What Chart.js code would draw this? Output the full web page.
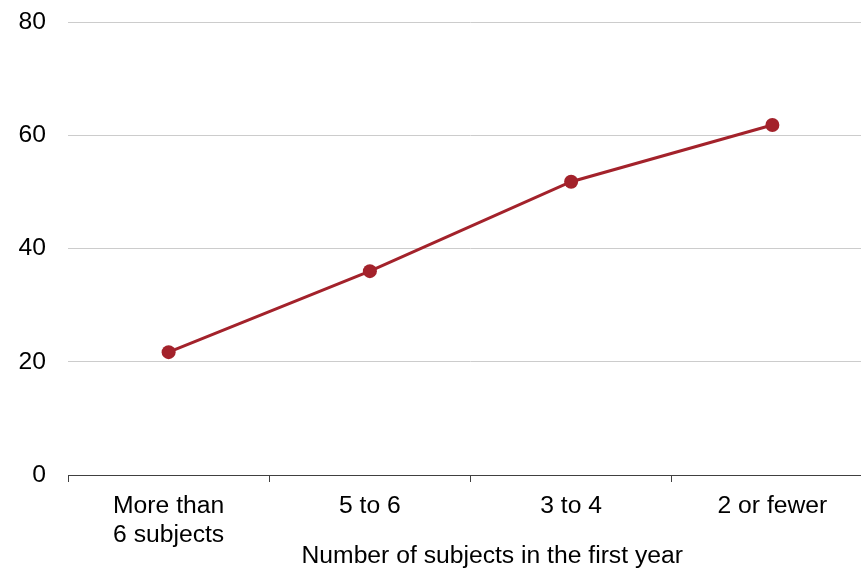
<!DOCTYPE html>
<html>
<head>
<meta charset="utf-8">
<script src="https://cdn.jsdelivr.net/npm/chart.js@4/dist/chart.umd.min.js"></script>
<style>
  html, body { margin: 0; padding: 0; background: #ffffff; overflow: hidden; width: 861px; height: 568px; }
  #wrap { width: 880px; height: 568px; }
</style>
</head>
<body>
<div id="wrap"><canvas id="c" width="880" height="568"></canvas></div>
<script>
const categories = [["More than", "6 subjects"], "5 to 6", "3 to 4", "2 or fewer"];
const values = [21.7, 36.0, 51.8, 61.8];
const yTicks = [0, 20, 40, 60, 80];
const xTitle = "Number of subjects in the first year";

const FONT = "'Liberation Sans', Arial, sans-serif";
const FS = 24.7;
const LINE = '#a3222b';

const xTitlePlugin = {
  id: 'xTitlePlugin',
  afterDraw(chart) {
    const ctx = chart.ctx;
    const a = chart.chartArea;
    ctx.save();
    ctx.font = FS + 'px ' + FONT;
    ctx.fillStyle = '#000000';
    ctx.textAlign = 'center';
    ctx.textBaseline = 'alphabetic';
    ctx.fillText(xTitle, a.left + (a.right - a.left) * 0.527, chart.height - 5);
    ctx.restore();
  }
};

new Chart(document.getElementById('c'), {
  type: 'line',
  data: {
    labels: categories,
    datasets: [{
      data: values,
      borderColor: LINE,
      backgroundColor: LINE,
      borderWidth: 3,
      pointRadius: 7,
      pointHoverRadius: 7,
      pointBackgroundColor: LINE,
      pointBorderColor: LINE,
      pointBorderWidth: 0,
      tension: 0,
      fill: false
    }]
  },
  options: {
    responsive: false,
    animation: false,
    devicePixelRatio: 1,
    layout: { padding: { left: 18, top: 22, right: 0, bottom: 8.2 } },
    plugins: { legend: { display: false }, tooltip: { enabled: false }, title: { display: false } },
    scales: {
      x: {
        type: 'category',
        offset: true,
        afterFit(scale) { scale.paddingLeft = 0; scale.paddingRight = 0; },
        grid: { display: true, drawOnChartArea: false, drawTicks: true, tickLength: 7, offset: true, color: '#404040', lineWidth: 1 },
        border: { display: true, color: '#404040', width: 1 },
        ticks: { color: '#000000', font: { family: FONT, size: FS, lineHeight: 1.17 }, maxRotation: 0, minRotation: 0, padding: 10, autoSkip: false }
      },
      y: {
        min: yTicks[0],
        max: yTicks[yTicks.length - 1],
        afterBuildTicks(scale) { scale.ticks = yTicks.map(v => ({ value: v })); },
        afterFit(scale) { scale.paddingTop = 0; scale.paddingBottom = 0; scale.width = 50; },
        grid: { color: '#cccccc', lineWidth: 1, drawTicks: false },
        border: { display: false },
        ticks: { color: '#000000', font: { family: FONT, size: FS }, padding: 22 }
      }
    }
  },
  plugins: [xTitlePlugin]
});
</script>
</body>
</html>
